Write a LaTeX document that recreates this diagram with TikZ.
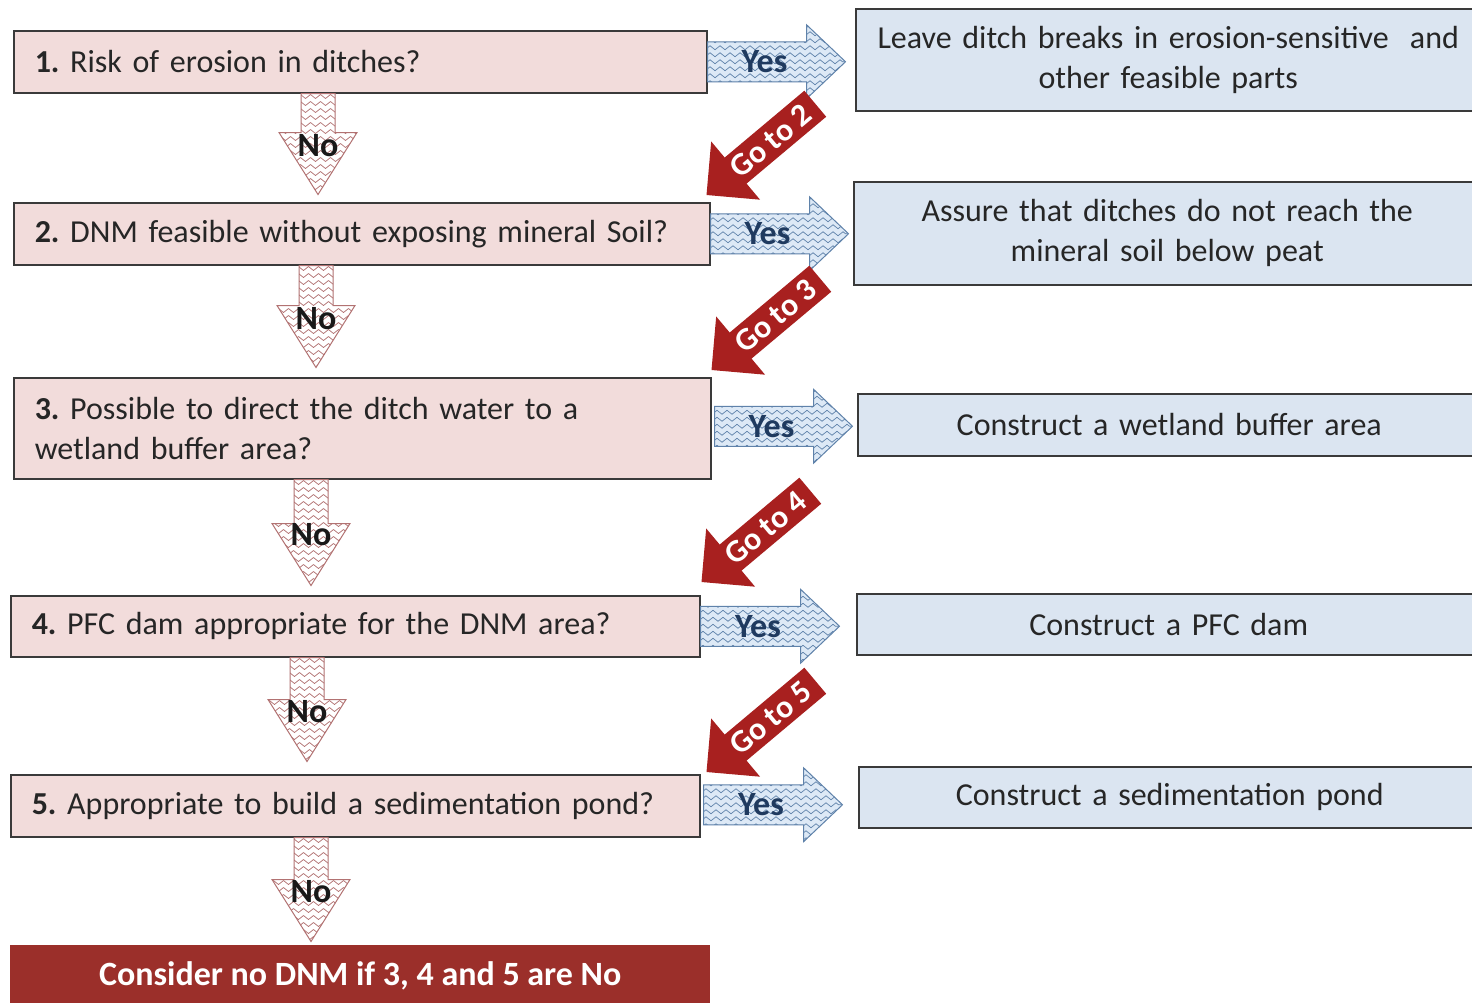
\documentclass[tikz,border=0pt]{standalone}
\usepackage{fontspec}
\setmainfont{Carlito}
\usetikzlibrary{calc, decorations.pathmorphing}

\definecolor{boxpink}{HTML}{F2DCDB}
\definecolor{boxblue}{HTML}{DBE5F1}
\definecolor{boxline}{HTML}{3A3A3A}
\definecolor{gored}{HTML}{A8201F}
\definecolor{endred}{HTML}{9B2F2A}
\definecolor{yesblue}{HTML}{DDE9F6}
\definecolor{waveblue}{HTML}{5F82AA}
\definecolor{wavered}{HTML}{B27272}
\definecolor{yesnavy}{HTML}{1F3A5F}

% block arrow outlines: length, half shaft, half head, head length
\newcommand{\rightblock}[4]{(0,-#2) -- (#1-#4,-#2) -- (#1-#4,-#3) -- (#1,0) -- (#1-#4,#3) -- (#1-#4,#2) -- (0,#2) -- cycle}
\newcommand{\downblock}[4]{(-#2,0) -- (-#2,#1-#4) -- (-#3,#1-#4) -- (0,#1) -- (#3,#1-#4) -- (#2,#1-#4) -- (#2,0) -- cycle}

% yes arrow: start, length, name
\newcommand{\yesarrow}[3]{%
  \begin{scope}[shift={#1}]
    \fill[yesblue] \rightblock{#2}{20}{37}{39};
    \begin{scope}
      \clip \rightblock{#2}{20}{37}{39};
      \foreach \r in {-35,-28,...,35}
        \draw[wave, waveblue] (0,\r) -- (#2,\r);
    \end{scope}
    \draw[waveblue, line width=1pt] \rightblock{#2}{20}{37}{39};
    \node[yestxt] (#3) at (#2/2-12,0) {Yes};
  \end{scope}}

% no arrow: start, length, name
\newcommand{\noarrow}[3]{%
  \begin{scope}[shift={#1}]
    \fill[white] \downblock{#2}{17}{39}{62};
    \begin{scope}
      \clip \downblock{#2}{17}{39}{62};
      \foreach \r in {3,10,...,#2}
        \draw[wave, wavered] (-40,\r) -- (40,\r);
    \end{scope}
    \draw[wavered, line width=1pt] \downblock{#2}{17}{39}{62};
    \node[notxt] (#3) at (0,#2/2+2) {No};
  \end{scope}}

% go-to arrow: tip, target, name
\newcommand{\goarrow}[3]{%
  \begin{scope}[shift={#1}, rotate=220]
    \fill[gored] (0,0) -- (-38,-38) -- (-38,-17) -- (-142,-17)
      -- (-142,17) -- (-38,17) -- (-38,38) -- cycle;
    \node[gotxt, rotate=40] (#3) at (-84,0) {Go to #2};
  \end{scope}}

\begin{document}
\frenchspacing
\begin{tikzpicture}[
    x=1pt, y=-1pt,
    every node/.style={font=\fontsize{32}{40}\selectfont},
    leftbox/.style={draw=boxline, line width=1.5pt, fill=boxpink, anchor=north west,
      inner xsep=21pt, align=left, text=black!85, text width=#1},
    rightbox/.style={draw=boxline, line width=1.5pt, fill=boxblue, anchor=north west,
      inner xsep=10pt, align=center, text=black!85, text width=#1},
    endbox/.style={fill=endred, anchor=north west, text=white, minimum width=700pt,
      minimum height=62pt, font=\fontsize{34}{40}\selectfont\bfseries},
    wave/.style={line width=0.7pt, decorate,
      decoration={zigzag, segment length=10pt, amplitude=2pt}},
    yestxt/.style={text=yesnavy, font=\fontsize{34}{40}\selectfont\bfseries},
    notxt/.style={text=black!90, font=\fontsize{34}{40}\selectfont\bfseries},
    gotxt/.style={text=white, font=\fontsize{32}{40}\selectfont\bfseries},
  ]
    \useasboundingbox (0,0) rectangle (1472,1002);
    \clip (0,0) rectangle (1472,1002);
    \fill[white] (0,0) rectangle (1472,1002);
    % questions
    \node[leftbox=651pt, minimum height=62pt] (L1) at (13,30)
      {\textbf{1.} Risk of erosion in ditches?};
    \node[leftbox=654pt, minimum height=62pt] (L2) at (13,202)
      {\textbf{2.} DNM feasible without exposing mineral Soil?};
    \node[leftbox=655pt, minimum height=101pt] (L3) at (13,377)
      {\textbf{3.} Possible to direct the ditch water to a\\wetland buffer area?};
    \node[leftbox=647pt, minimum height=61pt] (L4) at (10,595)
      {\textbf{4.} PFC dam appropriate for the DNM area?};
    \node[leftbox=647pt, minimum height=62pt] (L5) at (10,774)
      {\textbf{5.} Appropriate to build a sedimentation pond?};
    \node[endbox] (E) at (10,945) {Consider no DNM if 3, 4 and 5 are No};
    % measures
    \node[rightbox=605pt, minimum height=102pt] (R1) at (855,8)
      {Leave ditch breaks in erosion-sensitive\ \ and\\other feasible parts};
    \node[rightbox=607pt, minimum height=103pt] (R2) at (853,181)
      {Assure that ditches do not reach the\\mineral soil below peat};
    \node[rightbox=603pt, minimum height=62pt] (R3) at (857,393)
      {Construct a wetland buffer area};
    \node[rightbox=604pt, minimum height=61pt] (R4) at (856,593)
      {Construct a PFC dam};
    \node[rightbox=602pt, minimum height=61pt] (R5) at (858,766)
      {Construct a sedimentation pond};
    % no arrows
    \noarrow{($(L1.south west)+(305,0)$)}{101}{n1}
    \noarrow{($(L2.south west)+(303,0)$)}{102}{n2}
    \noarrow{($(L3.south west)+(298,0)$)}{106}{n3}
    \noarrow{($(L4.south west)+(297,0)$)}{104}{n4}
    \noarrow{($(L5.south west)+(301,0)$)}{104}{n5}
    % yes arrows
    \yesarrow{(L1.east)}{138}{y1}
    \yesarrow{(L2.east)}{138}{y2}
    \yesarrow{($(L3.east)+(3,-2)$)}{138}{y3}
    \yesarrow{(L4.east)}{139}{y4}
    \yesarrow{($(L5.east)+(3,-1)$)}{139}{y5}
    % go-to arrows
    \goarrow{($(L2.north east)+(-4,-7)$)}{2}{g2}
    \goarrow{($(L3.north east)+(0,-7)$)}{3}{g3}
    \goarrow{($(L4.north east)+(1,-13)$)}{4}{g4}
    \goarrow{($(L5.north east)+(6,-2)$)}{5}{g5}
  \end{tikzpicture}
\end{document}
